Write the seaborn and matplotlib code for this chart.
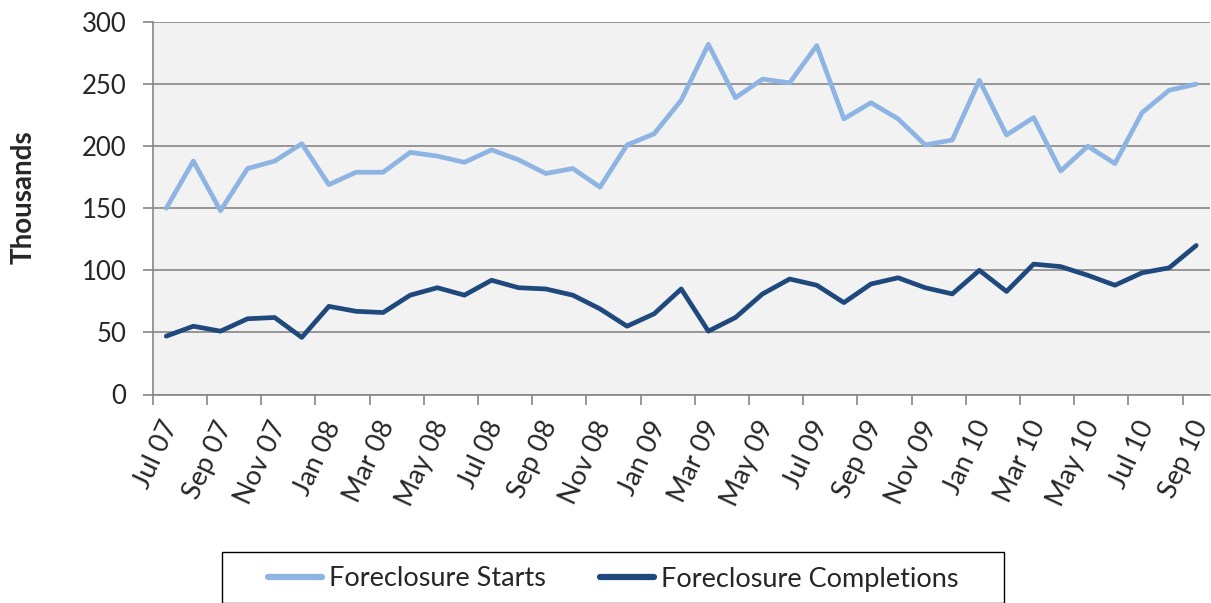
import pandas as pd
import matplotlib
matplotlib.use('Agg')
import matplotlib.pyplot as plt
import matplotlib.patches as mpatches
import matplotlib.transforms as mtransforms
import seaborn as sns

# Monthly data, Jul 2007 - Sep 2010 (thousands)
months = ['Jul 07', 'Aug 07', 'Sep 07', 'Oct 07', 'Nov 07', 'Dec 07',
          'Jan 08', 'Feb 08', 'Mar 08', 'Apr 08', 'May 08', 'Jun 08',
          'Jul 08', 'Aug 08', 'Sep 08', 'Oct 08', 'Nov 08', 'Dec 08',
          'Jan 09', 'Feb 09', 'Mar 09', 'Apr 09', 'May 09', 'Jun 09',
          'Jul 09', 'Aug 09', 'Sep 09', 'Oct 09', 'Nov 09', 'Dec 09',
          'Jan 10', 'Feb 10', 'Mar 10', 'Apr 10', 'May 10', 'Jun 10',
          'Jul 10', 'Aug 10', 'Sep 10']

starts = [150, 188, 148, 182, 188, 202, 169, 179, 179, 195, 192, 187,
          197, 189, 178, 182, 167, 201, 210, 237, 282, 239, 254, 251,
          281, 222, 235, 222, 201, 205, 253, 209, 223, 180, 200, 186,
          227, 245, 250]

completions = [47, 55, 51, 61, 62, 46, 71, 67, 66, 80, 86, 80,
               92, 86, 85, 80, 69, 55, 65, 85, 51, 62, 81, 93,
               88, 74, 89, 94, 86, 81, 100, 83, 105, 103, 96, 88,
               98, 102, 120]

series_names = ['Foreclosure Starts', 'Foreclosure Completions']
colors = ['#8DB4E2', '#1F497D']

# long format for seaborn
df = pd.DataFrame({
    'month': months * 2,
    'pos': list(range(len(months))) * 2,
    'value': starts + completions,
    'series': [series_names[0]] * len(months) + [series_names[1]] * len(months),
})

sns.set_theme(style='white')
plt.rcParams['font.family'] = ['Lato', 'DejaVu Sans']

fig = plt.figure(figsize=(12.11, 6.03), dpi=100)
ax = fig.add_axes([152.7 / 1211, 1 - 394.5 / 603, 1 - 152.7 / 1211 - 0.001, (394.5 - 22) / 603])
ax.set_facecolor('#F2F2F2')

sns.lineplot(data=df, x='pos', y='value', hue='series', palette=colors,
             linewidth=3.4, sort=False, ax=ax, legend=False)

grid_col = '#868686'
ax.set_ylim(0, 300)
ax.set_yticks(range(0, 301, 50))
ax.set_xlim(-0.5, len(months) - 0.5)
ax.yaxis.grid(True, color=grid_col, linewidth=1.2)
ax.set_axisbelow(True)

# labels at category centres, tick marks on category boundaries
ax.set_xticks(range(0, len(months), 2))
ax.set_xticklabels(months[::2], rotation=65, ha='right', va='center',
                   rotation_mode='anchor')
ax.set_xticks([i - 0.5 for i in range(0, len(months), 2)], minor=True)
ax.tick_params(axis='x', which='major', length=0, pad=20, labelsize=19.5)
ax.tick_params(axis='x', which='minor', length=7, width=1.2, color=grid_col,
               direction='out', bottom=True)
ax.tick_params(axis='y', length=7, width=1.2, color=grid_col, direction='out',
               left=True, pad=12, labelsize=18.5)
shift = mtransforms.ScaledTranslation(5 / 100, 0, fig.dpi_scale_trans)
for lab in ax.get_xticklabels():
    lab.set_transform(lab.get_transform() + shift)

for side in ['top', 'right']:
    ax.spines[side].set_visible(False)
for side in ['left', 'bottom']:
    ax.spines[side].set_color(grid_col)
    ax.spines[side].set_linewidth(1.2)

ax.set_xlabel('')
ax.set_ylabel('')
fig.text(24 / 1211, 1 - 197 / 603, 'Thousands', rotation=90, ha='center',
         va='center', fontsize=20, fontweight='bold')

# legend in a box below the plot
handles = [plt.Line2D([], [], color=c, linewidth=4.5) for c in colors]
fig.legend(handles, series_names, loc='center', frameon=False, ncol=2,
           bbox_to_anchor=(613 / 1211, 1 - 579 / 603), fontsize=19.5,
           handlelength=2.0, handletextpad=0.25, columnspacing=2.0)
fig.patches.append(mpatches.Rectangle((222 / 1211, 0), (1004 - 222) / 1211,
                                      (603 - 552) / 603, transform=fig.transFigure,
                                      fill=False, edgecolor='black', linewidth=1))

plt.savefig('out.png', dpi=100)
plt.close()
